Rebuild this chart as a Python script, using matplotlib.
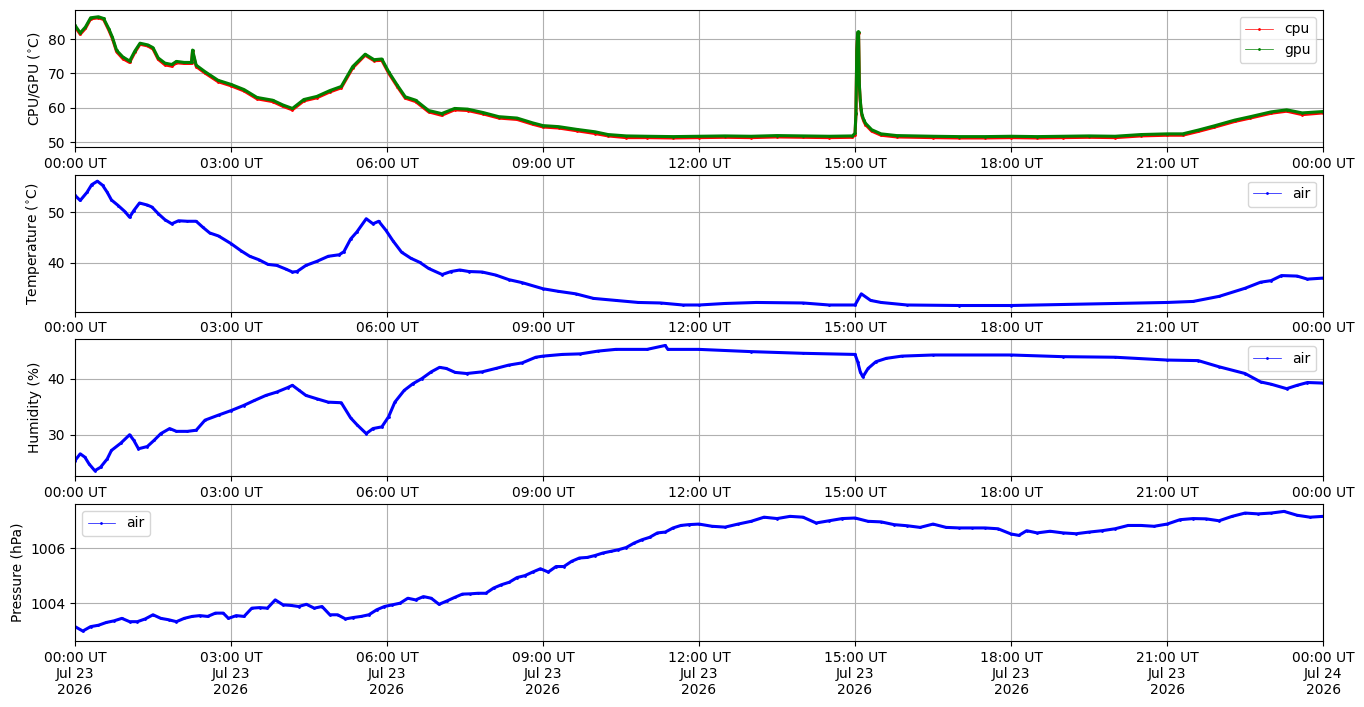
import matplotlib.pyplot as plt
import matplotlib.dates as mdates
import numpy as np

# readings, hours after 2026-07-23 00:00 UT
gpu_hours = [0, 0.1, 0.2, 0.3, 0.45, 0.55, 0.65, 0.72, 0.8, 0.92, 1.05, 1.15, 1.25, 1.4, 1.5, 1.6,
             1.73, 1.86, 1.95, 2.1, 2.24, 2.26, 2.33, 2.5, 2.75, 3.0, 3.25, 3.5, 3.8, 4.0, 4.18, 4.4,
             4.65, 4.9, 5.12, 5.34, 5.58, 5.75, 5.9, 6.03, 6.2, 6.35, 6.55, 6.8, 7.05, 7.3, 7.55,
             7.85, 8.15, 8.5, 8.8, 9.0, 9.3, 9.65, 10.0, 10.25, 10.6, 11.0, 11.5, 12.0, 12.5, 13.0,
             13.5, 14.0, 14.5, 14.95, 15.0, 15.017, 15.033, 15.05, 15.067, 15.083, 15.1, 15.117,
             15.133, 15.167, 15.2, 15.32, 15.5, 15.8, 16.5, 17.0, 17.5, 18.0, 18.5, 19.0, 19.5, 20.0,
             20.5, 21.0, 21.3, 21.6, 21.9, 22.3, 22.6, 23.0, 23.3, 23.6, 24.0]
gpu_temp = [84.0, 81.8, 83.5, 86.2, 86.5, 86.0, 83.0, 80.5, 76.7, 74.8, 73.6, 76.5, 78.8, 78.3, 77.5,
            74.5, 73.0, 72.6, 73.5, 73.2, 73.2, 76.8, 72.4, 70.5, 68.0, 66.8, 65.3, 63.0, 62.2, 60.8,
            59.8, 62.4, 63.3, 65.0, 66.2, 72.0, 75.6, 74.0, 74.2, 70.5, 66.5, 63.2, 62.2, 59.2, 58.3,
            59.8, 59.6, 58.6, 57.4, 57.0, 55.6, 54.8, 54.5, 53.7, 53.0, 52.2, 51.8, 51.7, 51.6, 51.7,
            51.8, 51.7, 51.9, 51.8, 51.7, 51.8, 52.6, 58.5, 76.8, 82.0, 82.2, 66.6, 62.3, 59.5, 58.0,
            56.5, 55.5, 53.6, 52.4, 51.9, 51.7, 51.6, 51.6, 51.7, 51.6, 51.7, 51.8, 51.7, 52.2, 52.4,
            52.4, 53.5, 54.7, 56.4, 57.4, 58.8, 59.4, 58.5, 58.9]
cpu_temp = [83.6, 81.4, 83.1, 85.9, 86.2, 85.7, 82.6, 80.1, 76.3, 74.3, 73.2, 76.1, 78.5, 78.0, 77.1,
            74.1, 72.5, 72.1, 73.1, 72.9, 72.9, 76.4, 72.0, 70.1, 67.6, 66.4, 64.9, 62.6, 61.8, 60.4,
            59.4, 62.0, 62.9, 64.6, 65.8, 71.6, 75.3, 73.7, 73.8, 70.1, 66.1, 62.8, 61.8, 58.8, 57.8,
            59.4, 59.2, 58.2, 57.0, 56.6, 55.2, 54.4, 54.1, 53.3, 52.5, 51.8, 51.3, 51.3, 51.2, 51.3,
            51.4, 51.3, 51.5, 51.4, 51.3, 51.4, 52.2, 58.1, 76.4, 81.6, 81.9, 66.2, 61.9, 59.1, 57.6,
            56.1, 55.1, 53.2, 52.0, 51.5, 51.3, 51.2, 51.2, 51.3, 51.2, 51.3, 51.4, 51.3, 51.8, 52.0,
            52.0, 53.1, 54.3, 56.0, 57.0, 58.4, 59.0, 58.0, 58.5]

temp_hours = [0, 0.1, 0.23, 0.32, 0.43, 0.53, 0.62, 0.7, 0.83, 0.96, 1.05, 1.13, 1.24, 1.39, 1.48,
              1.6, 1.73, 1.86, 1.99, 2.16, 2.33, 2.46, 2.59, 2.76, 3.0, 3.19, 3.36, 3.54, 3.71, 3.88,
              4.05, 4.18, 4.27, 4.44, 4.65, 4.87, 5.08, 5.17, 5.3, 5.42, 5.6, 5.73, 5.84, 5.98, 6.11,
              6.28, 6.46, 6.63, 6.8, 7.06, 7.23, 7.4, 7.57, 7.83, 8.09, 8.34, 8.6, 9.0, 9.29, 9.63,
              9.97, 10.4, 10.83, 11.26, 11.69, 12.0, 12.5, 13.1, 14.0, 14.5, 15.0, 15.12, 15.3, 15.5,
              16.0, 17.0, 18.0, 19.0, 20.0, 21.0, 21.5, 22.0, 22.5, 22.8, 23.0, 23.2, 23.5, 23.7, 24.0]
air_temp = [53.3, 52.3, 53.9, 55.4, 56.1, 55.3, 53.9, 52.4, 51.3, 50.1, 49.0, 50.3, 51.8, 51.4, 51.0,
            49.7, 48.5, 47.7, 48.3, 48.2, 48.2, 47.0, 45.9, 45.3, 43.8, 42.4, 41.3, 40.6, 39.7, 39.5,
            38.8, 38.2, 38.3, 39.5, 40.3, 41.3, 41.6, 42.2, 44.7, 46.1, 48.7, 47.7, 48.2, 46.4, 44.4,
            42.1, 40.9, 40.1, 38.9, 37.7, 38.3, 38.6, 38.3, 38.2, 37.6, 36.7, 36.1, 34.9, 34.4, 33.9,
            33.0, 32.6, 32.2, 32.1, 31.7, 31.7, 32.0, 32.2, 32.1, 31.7, 31.7, 33.9, 32.6, 32.2,
            31.7, 31.6, 31.6, 31.8, 32.0, 32.2, 32.4, 33.4, 35.0, 36.2, 36.5, 37.5, 37.4, 36.8, 37.0]

hum_hours = [0, 0.1, 0.19, 0.27, 0.38, 0.49, 0.62, 0.7, 0.88, 1.05, 1.13, 1.22, 1.39, 1.52, 1.65,
             1.82, 1.95, 2.16, 2.33, 2.5, 2.76, 3.0, 3.24, 3.45, 3.67, 3.88, 4.09, 4.18, 4.31, 4.44,
             4.65, 4.87, 5.12, 5.3, 5.42, 5.6, 5.73, 5.9, 6.03, 6.15, 6.33, 6.5, 6.67, 6.85, 7.01,
             7.14, 7.31, 7.53, 7.83, 8.09, 8.34, 8.6, 8.86, 9.0, 9.37, 9.72, 10.06, 10.4, 11.0, 11.35,
             11.4, 12.0, 13.0, 14.0, 15.0, 15.05, 15.1, 15.15, 15.25, 15.4, 15.6, 15.9, 16.5, 18.0,
             19.0, 20.0, 21.0, 21.6, 22.0, 22.5, 22.8, 23.0, 23.3, 23.5, 23.7, 24.0]
air_hum = [25.4, 26.6, 26.0, 24.8, 23.6, 24.2, 25.7, 27.2, 28.5, 30.0, 29.0, 27.5, 27.9, 29.0, 30.2,
           31.1, 30.6, 30.6, 30.8, 32.6, 33.5, 34.3, 35.2, 36.1, 37.0, 37.6, 38.4, 38.8, 37.9, 37.0,
           36.4, 35.8, 35.7, 33.0, 31.8, 30.2, 31.1, 31.4, 33.2, 35.8, 37.9, 39.1, 40.0, 41.2, 42.0,
           41.8, 41.1, 40.9, 41.2, 41.8, 42.4, 42.8, 43.8, 44.0, 44.3, 44.4, 44.9, 45.2, 45.2, 45.9,
           45.2, 45.2, 44.8, 44.5, 44.3, 43.0, 41.2, 40.3, 41.8, 43.0, 43.6, 44.0, 44.2, 44.2,
           43.9, 43.8, 43.3, 43.2, 42.1, 40.9, 39.4, 39.0, 38.2, 38.8, 39.3, 39.2]

pres_hours = [0, 0.15, 0.3, 0.45, 0.6, 0.75, 0.9, 1.05, 1.2, 1.35, 1.5, 1.65, 1.8, 1.95, 2.1, 2.25,
              2.4, 2.55, 2.7, 2.85, 2.95, 3.1, 3.25, 3.4, 3.55, 3.7, 3.85, 4.0, 4.15, 4.3, 4.45, 4.6,
              4.75, 4.9, 5.05, 5.2, 5.35, 5.5, 5.65, 5.8, 5.95, 6.1, 6.25, 6.4, 6.55, 6.7, 6.85, 7.0,
              7.15, 7.3, 7.45, 7.6, 7.75, 7.9, 8.05, 8.2, 8.35, 8.5, 8.65, 8.8, 8.95, 9.1, 9.25, 9.4,
              9.55, 9.7, 9.85, 10.0, 10.15, 10.3, 10.45, 10.6, 10.75, 10.9, 11.05, 11.2, 11.35, 11.5,
              11.65, 11.8, 12.0, 12.25, 12.5, 12.75, 13.0, 13.25, 13.5, 13.75, 14.0, 14.25, 14.5,
              14.75, 15.0, 15.25, 15.5, 15.75, 16.0, 16.25, 16.5, 16.75, 17.0, 17.25, 17.5, 17.75,
              18.0, 18.15, 18.3, 18.5, 18.75, 19.0, 19.25, 19.5, 19.75, 20.0, 20.25, 20.5, 20.75,
              21.0, 21.25, 21.5, 21.75, 22.0, 22.25, 22.5, 22.75, 23.0, 23.25, 23.5, 23.75, 24.0]
air_pres = [1003.15, 1002.99, 1003.15, 1003.2, 1003.3, 1003.36, 1003.45, 1003.33, 1003.33, 1003.43,
            1003.58, 1003.45, 1003.4, 1003.33, 1003.45, 1003.52, 1003.55, 1003.52, 1003.64, 1003.64,
            1003.45, 1003.55, 1003.52, 1003.82, 1003.84, 1003.82, 1004.12, 1003.94, 1003.92, 1003.88,
            1003.96, 1003.82, 1003.88, 1003.58, 1003.58, 1003.43, 1003.48, 1003.52, 1003.58, 1003.76,
            1003.88, 1003.94, 1004.0, 1004.18, 1004.12, 1004.24, 1004.18, 1003.96, 1004.08, 1004.21,
            1004.33, 1004.34, 1004.36, 1004.36, 1004.55, 1004.67, 1004.76, 1004.93, 1005.0, 1005.13,
            1005.25, 1005.13, 1005.33, 1005.33, 1005.52, 1005.64, 1005.66, 1005.73, 1005.82, 1005.88,
            1005.94, 1006.02, 1006.18, 1006.3, 1006.39, 1006.55, 1006.58, 1006.73, 1006.82, 1006.85,
            1006.87, 1006.79, 1006.76, 1006.87, 1006.97, 1007.12, 1007.07, 1007.15, 1007.12, 1006.91,
            1006.99, 1007.07, 1007.09, 1006.97, 1006.95, 1006.85, 1006.81, 1006.75, 1006.87, 1006.75,
            1006.73, 1006.73, 1006.73, 1006.7, 1006.51, 1006.46, 1006.63, 1006.55, 1006.61, 1006.55,
            1006.52, 1006.58, 1006.63, 1006.7, 1006.82, 1006.82, 1006.79, 1006.87, 1007.03, 1007.07,
            1007.06, 1006.99, 1007.15, 1007.27, 1007.24, 1007.27, 1007.33, 1007.19, 1007.12, 1007.15]

start = np.datetime64('2026-07-23T00:00:00')
end = np.datetime64('2026-07-24T00:00:00')


def to_time(hours):
    return start + np.round(np.array(hours) * 3600).astype(int) * np.timedelta64(1, 's')


def trace(ax, hours, vals, color, label):
    t = to_time(hours)
    ax.plot(t, vals, '-', color=color, lw=2.2)
    ax.plot(t, vals, '.-', color=color, lw=0.5, ms=2, label=label)


fig, axs = plt.subplots(4, 1, figsize=(13.64, 7.07), dpi=100)
plt.subplots_adjust(left=0.055, right=0.970, top=0.986, bottom=0.0934, hspace=0.202)

trace(axs[0], gpu_hours, cpu_temp, 'red', 'cpu')
trace(axs[0], gpu_hours, gpu_temp, 'green', 'gpu')
axs[0].set_ylabel(r'CPU/GPU ($^{\circ}$C)')
axs[0].set_ylim(48.6, 88.5)
axs[0].legend(loc='upper right')

trace(axs[1], temp_hours, air_temp, 'blue', 'air')
axs[1].set_ylabel(r'Temperature ($^{\circ}$C)')
axs[1].set_ylim(30.4, 57.4)
axs[1].legend(loc='upper right')

trace(axs[2], hum_hours, air_hum, 'blue', 'air')
axs[2].set_ylabel('Humidity (%)')
axs[2].set_ylim(22.6, 47.0)
axs[2].legend(loc='upper right')

trace(axs[3], pres_hours, air_pres, 'blue', 'air')
axs[3].set_ylabel('Pressure (hPa)')
axs[3].set_ylim(1002.63, 1007.6)
axs[3].legend(loc='upper left')

for i, ax in enumerate(axs):
    ax.set_xlim(start, end)
    ax.xaxis.set_major_locator(mdates.HourLocator(interval=3))
    if i < 3:
        ax.xaxis.set_major_formatter(mdates.DateFormatter('%H:%M UT'))
    else:
        ax.xaxis.set_major_formatter(mdates.DateFormatter('%H:%M UT\n%b %d\n%Y'))
    ax.grid(True)

plt.savefig('out.png')
